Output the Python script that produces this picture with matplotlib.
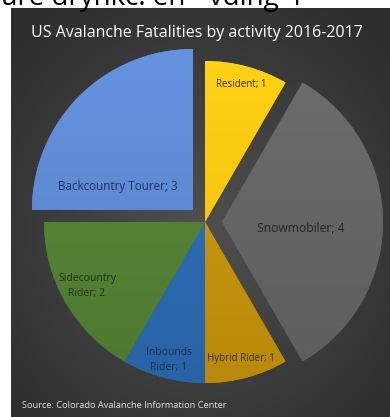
import numpy as np
import matplotlib.pyplot as plt
import matplotlib.colors as mcolors

# -----------------------------
# DATA
# -----------------------------
activities = ["Resident", "Snowmobiler", "Hybrid Rider", "Inbounds\nRider",
              "Sidecountry\nRider", "Backcountry Tourer"]
fatalities = [1, 4, 1, 1, 2, 3]
explode_px = [0, 17, 0, 0, 0, 17]
colors = ["#FFC20E", "#626262", "#C2900A", "#2A68AE", "#517F32", "#5B86CF"]
label_colors = ["#3A3020", "#262626", "#3A3020", "#1F2F4F", "#1F2F1A", "#1F3060"]
label_pos = [(241, 84), (301, 228), (241, 359), (169, 360), (87, 286), (118, 186)]
label_size = [7, 8.7, 7, 7.5, 7.5, 8.4]

W, H = 390, 417
fig = plt.figure(figsize=(W / 100, H / 100), dpi=100)
ax = fig.add_axes([0, 0, 1, 1])

# -----------------------------
# DARK PANEL WITH RADIAL GRADIENT
# -----------------------------
yy, xx = np.mgrid[8:H, 11:W]
d = np.hypot((xx - 200) / 260, (yy - 230) / 280)
shade = np.clip(1 - d, 0, 1)
lo, hi = np.array(mcolors.to_rgb("#2d2d2d")), np.array(mcolors.to_rgb("#505050"))
img = lo + (hi - lo) * shade[..., None]
ax.imshow(img, extent=(11, W, H, 8), zorder=0, interpolation="bilinear")

# -----------------------------
# PIE
# -----------------------------
wedges, _ = ax.pie(fatalities, center=(205, 222), radius=161, startangle=-90,
                   counterclock=True, explode=explode_px, colors=colors,
                   wedgeprops=dict(linewidth=0), frame=True)
ax.set_xlim(0, W)
ax.set_ylim(H, 0)
ax.axis("off")
ax.set_aspect("auto")

# cut-off line of page text above the panel: only its lower edge shows
frag = ax.text(2, 5, "are drynkc. en - vding 4", fontsize=20, color="black",
               family="Open Sans", ha="left", va="baseline", zorder=1)
frag.set_clip_path(plt.Rectangle((0, 0), W, 8, transform=ax.transData))

# vertical shading on each wedge (lighter top)
for w, c in zip(wedges, colors):
    base = np.array(mcolors.to_rgb(c))
    top = np.clip(base * 1.06 + 0.02, 0, 1)
    bot = base * 0.95
    t = np.linspace(0, 1, 256)[:, None, None]
    grad = top + (bot - top) * t
    grad = np.repeat(grad, 2, axis=1)
    im = ax.imshow(grad, extent=(20, 385, 390, 45), zorder=2, aspect="auto",
                   interpolation="bilinear")
    im.set_clip_path(w)

for name, val, pos, lc, fs in zip(activities, fatalities, label_pos, label_colors, label_size):
    ax.text(pos[0], pos[1], f"{name}; {val}", ha="center", va="center",
            fontsize=fs, color=lc, family="Open Sans", linespacing=1.4, zorder=3)

ax.text(197, 33, "US Avalanche Fatalities by activity 2016-2017", ha="center",
        va="center", fontsize=11.5, color="white", family="Open Sans", zorder=3)
ax.text(22, 406, "Source: Colorado Avalanche Information Center", ha="left",
        va="center", fontsize=6.7, color="#e0e0e0", family="Open Sans", zorder=3)

fig.savefig("out.png", dpi=100)
